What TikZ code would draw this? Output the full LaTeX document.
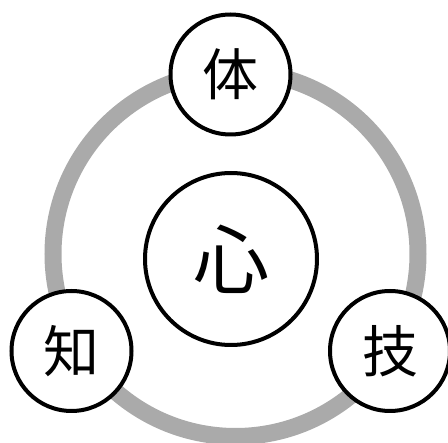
\documentclass[tikz,border=0pt]{standalone}
\usepackage{fontspec}
\newfontfamily\cjk{Noto Sans CJK JP}
\usetikzlibrary{positioning}
\definecolor{ringgray}{RGB}{170,170,170}

\begin{document}
\begin{tikzpicture}[x=1pt,y=-1pt,
  ring/.style={draw=ringgray,line width=17pt},
  small/.style={circle,draw,line width=4pt,fill=white,minimum size=120pt,inner sep=0pt,font=\cjk\fontsize{56}{56}\selectfont},
  big/.style={circle,draw,line width=4pt,fill=white,minimum size=172pt,inner sep=0pt,font=\cjk\fontsize{76}{76}\selectfont}]
\useasboundingbox (0,0) rectangle (448,443);
\coordinate (ringc) at (235.5,254);
\draw[ring] (ringc) circle (182.5);
\node[big] (shin) at (231,259){心};
\node[small] (tai) at (230.5,74.5){体};
\node[small] (chi) at (71.5,351){知};
\node[small] (gi) at (390,351){技};
\end{tikzpicture}
\end{document}
